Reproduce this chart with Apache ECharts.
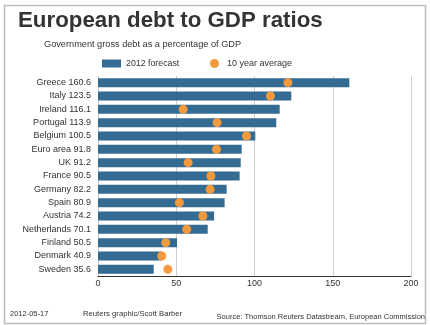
<!DOCTYPE html>
<html>
<head>
<meta charset="utf-8">
<script src="https://cdn.jsdelivr.net/npm/echarts@6/dist/echarts.min.js"></script>
<style>
  html, body { margin: 0; padding: 0; background: #fff; }
  #chart { width: 430px; height: 325px; }
</style>
</head>
<body>
<div id="chart"></div>
<script>
// Government gross debt, % of GDP
const countries = ['Greece', 'Italy', 'Ireland', 'Portugal', 'Belgium', 'Euro area', 'UK',
  'France', 'Germany', 'Spain', 'Austria', 'Netherlands', 'Finland', 'Denmark', 'Sweden'];
const forecast2012 = [160.6, 123.5, 116.1, 113.9, 100.5, 91.8, 91.2, 90.5, 82.2, 80.9, 74.2, 70.1, 50.5, 40.9, 35.6];
const tenYearAverage = [121.3, 110.2, 54.4, 76.1, 94.9, 75.7, 57.6, 72.1, 71.6, 52.0, 67.0, 56.7, 43.3, 40.7, 44.6];
const xTicks = [0, 50, 100, 150, 200];

const font = 'Arial, "Liberation Sans", sans-serif';
const barColor = '#336b93';
const dotColor = '#f29a3d';

const chart = echarts.init(document.getElementById('chart'), null, { renderer: 'canvas' });

chart.setOption({
  backgroundColor: '#fff',
  animation: false,
  textStyle: { fontFamily: font },
  graphic: [
    {
      type: 'rect',
      shape: { x: 4.5, y: 5.5, width: 421, height: 318 },
      style: { fill: 'none', stroke: '#bdbdbd', lineWidth: 1.5 },
      silent: true
    },
    {
      type: 'text', left: 18, top: 10,
      style: { text: 'European debt to GDP ratios', font: 'bold 22.3px ' + font, fill: '#333' }
    },
    {
      type: 'text', left: 44, top: 40,
      style: { text: 'Government gross debt as a percentage of GDP', font: '9.2px ' + font, fill: '#333' }
    },
    {
      type: 'text', left: 10, top: 310,
      style: { text: '2012-05-17', font: '7.5px ' + font, fill: '#333' }
    },
    {
      type: 'text', left: 83, top: 310,
      style: { text: 'Reuters graphic/Scott Barber', font: '7.7px ' + font, fill: '#333' }
    },
    {
      type: 'text', right: 5, top: 313,
      style: { text: 'Source: Thomson Reuters Datastream, European Commission', font: '7.5px ' + font, fill: '#333' }
    }
  ],
  legend: [
    {
      data: [{ name: '2012 forecast', icon: 'rect' }],
      left: 102, top: 59,
      itemWidth: 19, itemHeight: 8, itemGap: 0,
      textStyle: { fontSize: 8.8, color: '#333', padding: [0, 0, 0, 0] },
      padding: 0, selectedMode: false
    },
    {
      data: [{ name: '10 year average', icon: 'circle' }],
      left: 210, top: 59,
      itemWidth: 9, itemHeight: 9, itemGap: 0,
      textStyle: { fontSize: 9, color: '#333', padding: [0, 0, 0, 3] },
      padding: 0, selectedMode: false
    }
  ],
  grid: { left: 98, right: 19, top: 76, bottom: 49, containLabel: false },
  xAxis: {
    type: 'value',
    min: xTicks[0], max: xTicks[xTicks.length - 1], interval: 50,
    axisLine: { show: true, lineStyle: { color: '#333', width: 1 } },
    axisTick: { show: false },
    axisLabel: { color: '#333', fontSize: 9, margin: 3 },
    splitLine: { show: true, lineStyle: { color: '#cfcfcf', width: 1 } }
  },
  yAxis: {
    type: 'category',
    inverse: true,
    data: countries,
    axisLine: { show: false },
    axisTick: { show: false },
    splitLine: { show: false },
    axisLabel: {
      color: '#333', fontSize: 9, margin: 7, interval: 0,
      formatter: (name, i) => name + ' ' + forecast2012[i].toFixed(1)
    }
  },
  series: [
    {
      name: '2012 forecast',
      type: 'bar',
      data: forecast2012,
      barWidth: 9,
      itemStyle: { color: barColor },
      silent: true
    },
    {
      name: '10 year average',
      type: 'scatter',
      data: tenYearAverage,
      symbol: 'circle',
      symbolSize: 9,
      itemStyle: { color: dotColor, opacity: 1 },
      silent: true,
      z: 3
    }
  ]
});
</script>
</body>
</html>
